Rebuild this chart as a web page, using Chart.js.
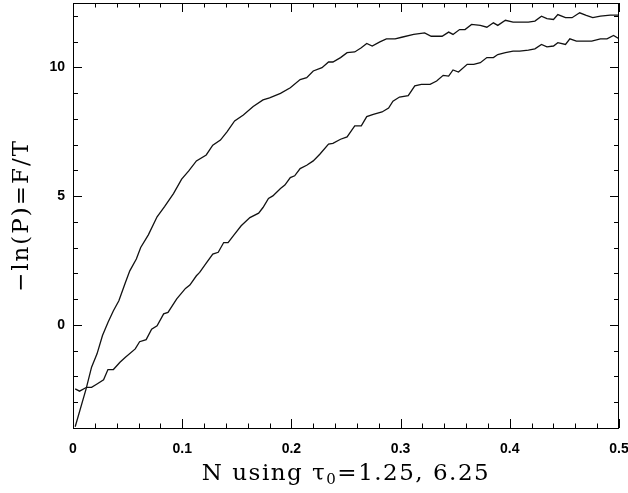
<!DOCTYPE html>
<html>
<head>
<meta charset="utf-8">
<script src="https://cdn.jsdelivr.net/npm/chart.js@4.4.1/dist/chart.umd.min.js"></script>
<style>
  html, body { margin: 0; padding: 0; background: #fff; }
  #wrap { width: 628px; height: 493px; }
</style>
</head>
<body>
<div id="wrap"><canvas id="freeEnergy"></canvas></div>
<script>
  // Data: N and -ln(P) for the two tau_0 runs
  const nSteep = [0.002, 0.012, 0.017, 0.022, 0.027, 0.032, 0.037, 0.042, 0.048, 0.052, 0.058, 0.062, 0.069, 0.077,
    0.084, 0.092, 0.0995, 0.106, 0.113, 0.122, 0.128, 0.135, 0.141, 0.148, 0.156, 0.165, 0.174, 0.180, 0.190, 0.199,
    0.208, 0.214, 0.220, 0.228, 0.234, 0.238, 0.245, 0.251, 0.258, 0.264, 0.269, 0.274, 0.281, 0.287, 0.295, 0.301,
    0.312, 0.322, 0.328, 0.338, 0.344, 0.348, 0.354, 0.359, 0.365, 0.373, 0.379, 0.385, 0.389, 0.396, 0.403, 0.417,
    0.423, 0.429, 0.434, 0.440, 0.444, 0.451, 0.457, 0.464, 0.470, 0.476, 0.483, 0.492, 0.500];
  const fSteep = [-3.95, -2.48, -1.64, -1.12, -0.41, 0.10, 0.55, 0.94, 1.65, 2.10, 2.56, 3.01, 3.50, 4.20,
    4.60, 5.10, 5.66, 5.98, 6.37, 6.60, 6.98, 7.18, 7.50, 7.92, 8.15, 8.48, 8.74, 8.82, 8.99, 9.21,
    9.53, 9.60, 9.86, 9.99, 10.21, 10.21, 10.38, 10.57, 10.60, 10.76, 10.93, 10.83, 10.99, 11.11, 11.11, 11.17,
    11.28, 11.34, 11.21, 11.21, 11.37, 11.28, 11.47, 11.47, 11.67, 11.63, 11.56, 11.73, 11.63, 11.83, 11.76, 11.76,
    11.80, 11.99, 11.89, 11.86, 12.05, 11.93, 11.93, 12.12, 12.02, 11.93, 11.99, 12.03, 12.03];

  const nSlow = [0.002, 0.006, 0.0125, 0.017, 0.022, 0.028, 0.032, 0.037, 0.043, 0.048, 0.057, 0.061, 0.067, 0.072,
    0.077, 0.083, 0.087, 0.095, 0.103, 0.107, 0.113, 0.116, 0.122, 0.128, 0.133, 0.138, 0.142, 0.148, 0.154, 0.162,
    0.170, 0.174, 0.179, 0.183, 0.190, 0.194, 0.199, 0.203, 0.208, 0.214, 0.220, 0.226, 0.234, 0.238, 0.245, 0.251,
    0.258, 0.264, 0.269, 0.275, 0.283, 0.289, 0.293, 0.299, 0.307, 0.313, 0.319, 0.327, 0.333, 0.339, 0.344, 0.348,
    0.353, 0.361, 0.367, 0.373, 0.379, 0.385, 0.389, 0.396, 0.403, 0.409, 0.417, 0.423, 0.429, 0.434, 0.440, 0.444,
    0.451, 0.455, 0.461, 0.475, 0.483, 0.489, 0.495, 0.500];
  const fSlow = [-2.48, -2.57, -2.42, -2.42, -2.29, -2.13, -1.73, -1.73, -1.45, -1.25, -0.93, -0.65, -0.57, -0.16,
    -0.03, 0.43, 0.49, 1.01, 1.42, 1.55, 1.91, 2.04, 2.40, 2.75, 2.82, 3.20, 3.20, 3.53, 3.85, 4.17,
    4.34, 4.56, 4.91, 5.01, 5.30, 5.43, 5.72, 5.79, 6.07, 6.20, 6.37, 6.63, 7.02, 7.05, 7.21, 7.30,
    7.73, 7.73, 8.09, 8.18, 8.27, 8.42, 8.69, 8.85, 8.90, 9.28, 9.34, 9.34, 9.47, 9.69, 9.66, 9.90,
    9.82, 10.12, 10.12, 10.18, 10.38, 10.38, 10.50, 10.57, 10.63, 10.63, 10.67, 10.72, 10.89, 10.80, 10.83, 10.96,
    10.89, 11.11, 11.02, 11.02, 11.11, 11.11, 11.24, 11.11];

  // Axis ticks
  const xTickValues = [0, 0.1, 0.2, 0.3, 0.4, 0.5];
  const xTickLabels = ['0', '0.1', '0.2', '0.3', '0.4', '0.5'];
  const yTickValues = [0, 5, 10];
  const yTickLabels = ['0', '5', '10'];
  const xMinorStep = 0.02;
  const yMinorStep = 1;

  const toPoints = (xs, ys) => xs.map((x, i) => ({ x: x, y: ys[i] }));

  // Inward ticks on all four sides plus the frame
  const frameTicks = {
    id: 'frameTicks',
    afterDraw(chart) {
      const { ctx, chartArea: a, scales } = chart;
      const xs = scales.x, ys = scales.y;
      ctx.save();
      ctx.strokeStyle = '#000';
      ctx.lineWidth = 1;
      ctx.strokeRect(a.left + 0.5, a.top + 0.5, a.right - a.left - 1, a.bottom - a.top);
      ctx.beginPath();
      for (let i = 0; i <= Math.round((xs.max - xs.min) / xMinorStep); i++) {
        const v = xs.min + i * xMinorStep;
        const major = Math.abs(v * 10 - Math.round(v * 10)) < 1e-6;
        const len = major ? 9 : 4.5;
        const px = Math.round(xs.getPixelForValue(v)) + 0.5;
        ctx.moveTo(px, a.bottom); ctx.lineTo(px, a.bottom - len);
        ctx.moveTo(px, a.top); ctx.lineTo(px, a.top + len);
      }
      for (let v = Math.ceil(ys.min); v <= ys.max; v += yMinorStep) {
        const major = v % 5 === 0;
        const len = major ? 9 : 5;
        const py = Math.round(ys.getPixelForValue(v)) + 0.5;
        ctx.moveTo(a.left, py); ctx.lineTo(a.left + len, py);
        ctx.moveTo(a.right, py); ctx.lineTo(a.right - len, py);
      }
      ctx.stroke();

      // Axis titles in a serif face, like the TeX labels of the original
      ctx.fillStyle = '#000';
      ctx.letterSpacing = '1.5px';
      const big = '23px "DejaVu Serif"';
      const small = '15px "DejaVu Serif"';
      const parts = [['N using \u03c4', big, 0], ['0', small, 4], ['=1.25, 6.25', big, 0]];
      let total = 0;
      parts.forEach(p => { ctx.font = p[1]; total += ctx.measureText(p[0]).width; });
      let x = (a.left + a.right) / 2 - total / 2;
      const base = a.bottom + 52;
      ctx.textBaseline = 'alphabetic';
      parts.forEach(p => {
        ctx.font = p[1];
        ctx.fillText(p[0], x, base + p[2]);
        x += ctx.measureText(p[0]).width;
      });

      ctx.letterSpacing = '2px';
      ctx.font = big;
      ctx.translate(28, (a.top + a.bottom) / 2);
      ctx.rotate(-Math.PI / 2);
      ctx.textAlign = 'center';
      ctx.fillText('\u2212ln(P)=F/T', 0, 0);
      ctx.restore();
    }
  };

  const tickFont = { family: '"Liberation Sans", Arial, sans-serif', size: 14, weight: 'bold' };

  new Chart(document.getElementById('freeEnergy').getContext('2d'), {
    type: 'line',
    data: {
      datasets: [
        {
          label: 'tau0 = 1.25',
          data: toPoints(nSteep, fSteep),
          borderColor: '#111',
          borderWidth: 1.3,
          pointRadius: 0,
          tension: 0,
          fill: false
        },
        {
          label: 'tau0 = 6.25',
          data: toPoints(nSlow, fSlow),
          borderColor: '#111',
          borderWidth: 1.3,
          pointRadius: 0,
          tension: 0,
          fill: false
        }
      ]
    },
    options: {
      responsive: true,
      maintainAspectRatio: false,
      animation: false,
      layout: { padding: { top: 3, right: 9, left: 0, bottom: 0 } },
      scales: {
        x: {
          type: 'linear',
          min: 0,
          max: 0.5,
          grid: { display: false, drawTicks: false },
          border: { display: false },
          afterBuildTicks: s => { s.ticks = xTickValues.map(v => ({ value: v })); },
          afterFit: s => { s.height = 65; s.paddingLeft = 0; s.paddingRight = 0; },
          ticks: {
            color: '#000',
            font: tickFont,
            padding: 13,
            maxRotation: 0,
            autoSkip: false,
            callback: (v) => xTickLabels[xTickValues.indexOf(v)]
          }
        },
        y: {
          min: -4,
          max: 12.5,
          grid: { display: false, drawTicks: false },
          border: { display: false },
          afterBuildTicks: s => { s.ticks = yTickValues.map(v => ({ value: v })); },
          afterFit: s => { s.width = 73; s.paddingTop = 0; s.paddingBottom = 0; },
          ticks: {
            color: '#000',
            font: tickFont,
            padding: 8,
            callback: (v) => yTickLabels[yTickValues.indexOf(v)]
          }
        }
      },
      plugins: {
        legend: { display: false },
        tooltip: { enabled: false }
      }
    },
    plugins: [frameTicks]
  });
</script>
</body>
</html>
